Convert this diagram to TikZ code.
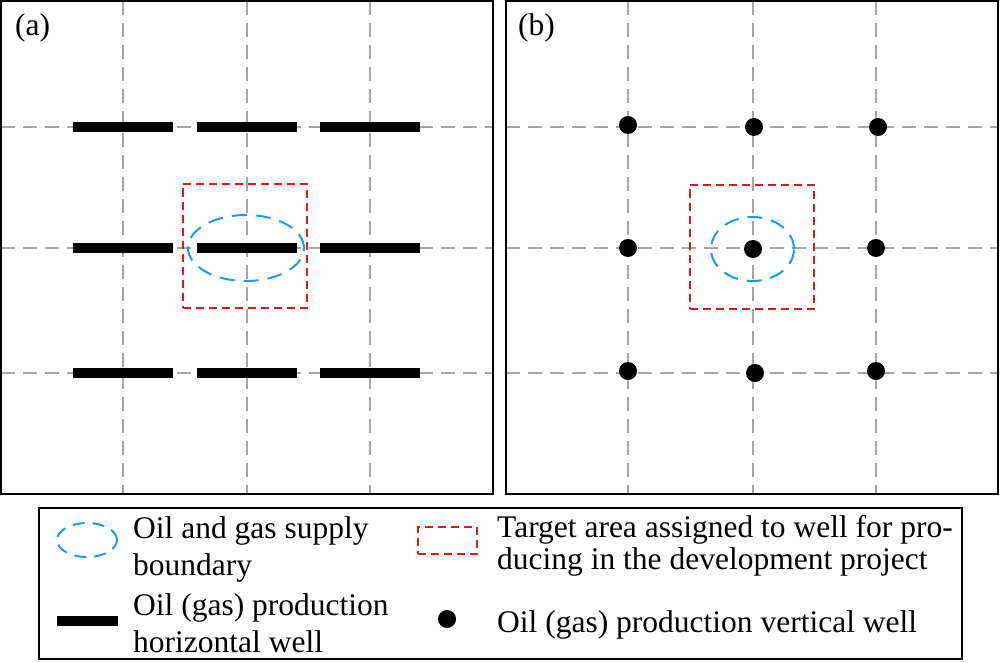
\documentclass[tikz,border=0pt]{standalone}
\usepackage{fontspec}
\setmainfont{Liberation Serif}
\usetikzlibrary{shapes.geometric}
\definecolor{tgt}{HTML}{D7191F}
\definecolor{bnd}{HTML}{1A9BE6}
\definecolor{grd}{HTML}{A6A6A6}

\begin{document}
\begin{tikzpicture}[x=1pt, y=-1pt,
  frame/.style={draw, line width=2pt, minimum width=492pt, minimum height=493pt, inner sep=0pt},
  gline/.style={grd, line width=1.3pt, dash pattern=on 14pt off 8pt},
  hwell/.style={fill=black, minimum width=100pt, minimum height=10pt, inner sep=0pt},
  vwell/.style={circle, fill=black, minimum size=18pt, inner sep=0pt},
  target/.style={draw=tgt, line width=2pt, dash pattern=on 8pt off 5pt, minimum width=124pt, minimum height=124pt, inner sep=0pt},
  supply/.style={ellipse, draw=bnd, line width=2pt, dash pattern=on 15pt off 9pt, inner sep=0pt},
  txt/.style={anchor=base west, inner sep=0pt, align=left, font=\fontsize{31.5}{37}\selectfont}]
\useasboundingbox (0,0) rectangle (1000,663);
% panel (a): horizontal wells
\draw[gline] (123,1) -- (123,494) (247,1) -- (247,494) (370,1) -- (370,494);
\draw[gline] (1,127) -- (493,127) (1,248) -- (493,248) (1,373) -- (493,373);
\node[frame] (pa) at (247,247.5) {};
\node[txt] (la) at (15,36) {(a)};
\node[target] (ta) at (245,245.5) {};
\node[supply, minimum width=116pt, minimum height=66pt] (sa) at (246,248) {};
\node[hwell] (h11) at (123,127) {}; \node[hwell] (h12) at (247,127) {}; \node[hwell] (h13) at (370,127) {};
\node[hwell] (h21) at (123,248) {}; \node[hwell] (h22) at (247,248) {}; \node[hwell] (h23) at (370,248) {};
\node[hwell] (h31) at (123,373) {}; \node[hwell] (h32) at (247,373) {}; \node[hwell] (h33) at (370,373) {};
% panel (b): vertical wells
\draw[gline] (628,1) -- (628,494) (753,1) -- (753,494) (876,1) -- (876,494);
\draw[gline] (506,127) -- (998,127) (506,248) -- (998,248) (506,373) -- (998,373);
\node[frame] (pb) at (752,247.5) {};
\node[txt] (lb) at (518,36) {(b)};
\node[target] (tb) at (752,246.5) {};
\node[supply, minimum width=83pt, minimum height=64pt] (sb) at (752.5,249) {};
\node[vwell] (v11) at (628,125) {}; \node[vwell] (v12) at (754,127) {}; \node[vwell] (v13) at (878,127) {};
\node[vwell] (v21) at (628,248) {}; \node[vwell] (v22) at (753,249) {}; \node[vwell] (v23) at (876,248) {};
\node[vwell] (v31) at (628,371) {}; \node[vwell] (v32) at (755,373) {}; \node[vwell] (v33) at (876,371) {};
% legend (base of a two-line node = last line)
\node[draw, line width=2pt, minimum width=923pt, minimum height=151pt, inner sep=0pt] (leg) at (500.5,583.5) {};
\node[supply, minimum width=60pt, minimum height=34pt, dash pattern=on 12pt off 8pt] (ks) at (87,540) {};
\node[txt] (ts) at (133,575) {Oil and gas supply\\boundary};
\node[hwell, minimum width=61pt] (kh) at (87.5,621) {};
\node[txt] (th) at (133,652) {Oil (gas) production\\horizontal well};
\node[target, minimum width=59pt, minimum height=27pt] (kt) at (447.5,540.5) {};
\node[txt, font=\fontsize{31.5}{32}\selectfont] (tt) at (497,569) {Target area assigned to well for pro-\\ducing in the development project};
\node[vwell] (kv) at (447,619) {};
\node[txt] (tv) at (497,632) {Oil (gas) production vertical well};
\end{tikzpicture}
\end{document}
